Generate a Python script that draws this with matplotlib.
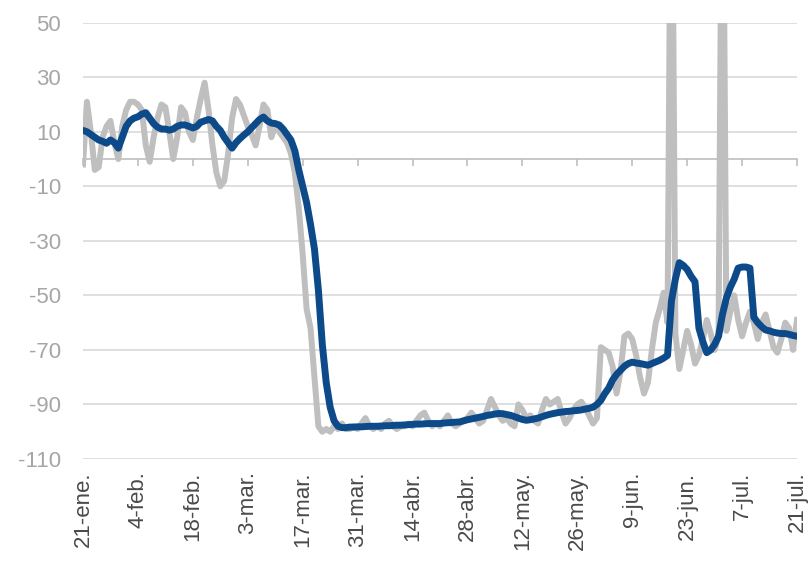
import matplotlib
matplotlib.use("Agg")
import matplotlib.pyplot as plt
import pandas as pd

plt.rcParams['font.family'] = ['Liberation Sans', 'DejaVu Sans']
plt.rcParams['axes.unicode_minus'] = False

start_date = "2020-01-21"

daily = [
    -2, 21, 10, -4, -3, 8, 12, 14, 6, 0,
    12, 18, 21, 21, 20, 18, 5, -1, 8, 15,
    20, 19, 10, 0, 8, 19, 17, 10, 7, 15,
    22, 28, 18, 5, -5, -10, -8, 2, 15, 22,
    20, 16, 12, 9, 5, 12, 20, 18, 8, 12,
    10, 8, 6, 2, -5, -18, -35, -55, -62, -80,
    -98, -100, -99, -100, -98, -99, -97, -99, -99, -98,
    -99, -97, -95, -98, -99, -98, -99, -97, -96, -98,
    -99, -98, -98, -97, -98, -96, -94, -93, -96, -98,
    -97, -98, -96, -94, -97, -98, -97, -96, -95, -93,
    -95, -97, -96, -92, -88, -91, -94, -96, -95, -97,
    -98, -90, -92, -95, -94, -96, -97, -92, -88, -90,
    -89, -88, -93, -97, -95, -92, -90, -89, -91, -94,
    -97, -95, -69, -70, -71, -76, -86, -78, -65, -64,
    -66, -72, -80, -86, -82, -70, -60, -55, -49, -60,
    150, -64, -77, -70, -63, -68, -75, -72, -66, -59,
    -64, -70, -65, 150, -63, -56, -50, -59, -65, -60,
    -56, -60, -66, -60, -57, -63, -69, -71, -66, -60,
    -62, -70, -59,
]

average = [
    10.5, 10, 9, 8, 7, 6.5, 5.8, 7, 6, 4,
    8, 12, 14, 15, 15.5, 16.5, 17, 15, 13, 11.7,
    11, 11, 10.6, 11, 12, 12.5, 12.5, 12, 11.4, 12,
    13.5, 14, 14.5, 14, 12, 10.5, 8, 6, 4, 6,
    7.5, 8.8, 10, 11.5, 13, 14.5, 15.4, 14, 13.2, 13,
    12.5, 11, 9, 7, 3, -4, -10, -16, -24, -33,
    -48, -68, -82, -91, -96, -98, -98.5, -98.5, -98.3, -98.3,
    -98.2, -98.2, -98.1, -98, -98, -98, -97.9, -97.8, -97.8, -97.7,
    -97.6, -97.6, -97.5, -97.4, -97.3, -97.2, -97.2, -97.1, -97, -97,
    -97, -97, -96.8, -96.7, -96.6, -96.5, -96.4, -96, -95.6, -95.3,
    -95, -94.7, -94.4, -94, -93.8, -93.5, -93.3, -93.4, -93.7, -94,
    -94.5, -95, -95.5, -95.8, -95.6, -95.3, -95, -94.5, -94, -93.6,
    -93.3, -93, -92.8, -92.6, -92.5, -92.3, -92.2, -92, -91.7, -91.4,
    -91, -90, -88.5, -86, -84, -81, -79, -77.5, -76, -75,
    -74.5, -74.8, -75, -75.3, -75.6, -75, -74.4, -73.8, -73, -72,
    -52, -44, -38, -39, -40.5, -43, -45, -62, -67, -71,
    -70, -68, -65, -57, -51, -47, -44, -40, -39.6, -39.6,
    -40, -58, -60, -61.5, -62.7, -63, -63.5, -63.8, -64, -64,
    -64.3, -64.7, -65,
]

y_ticks = [50, 30, 10, -10, -30, -50, -70, -90, -110]
y_tick_labels = ["50", "30", "10", "-10", "-30", "-50", "-70", "-90", "-110"]
x_tick_labels = ["21-ene.", "4-feb.", "18-feb.", "3-mar.", "17-mar.", "31-mar.",
                 "14-abr.", "28-abr.", "12-may.", "26-may.", "9-jun.", "23-jun.",
                 "7-jul.", "21-jul."]

dates = pd.date_range(start_date, periods=len(daily), freq="D")
tick_dates = pd.date_range(start_date, periods=len(x_tick_labels), freq="14D")

fig = plt.figure(figsize=(8.11, 5.69), dpi=100)
ax = fig.add_axes([83 / 811, 1 - 459 / 569, (797 - 83) / 811, (459 - 22.7) / 569])

grid_color = "#d9d9d9"
for v in y_ticks:
    ax.axhline(v, color=grid_color, lw=1.2, zorder=0)

ax.plot(dates, daily, color="#bfbfbf", lw=4.3, solid_joinstyle="round", zorder=2)
ax.plot(dates, average, color="#0d4a8a", lw=5.0, solid_joinstyle="round",
        solid_capstyle="round", zorder=3)

ax.set_ylim(-110, 50)
ax.set_xlim(dates[0], dates[-1])

for s in ["top", "right", "left"]:
    ax.spines[s].set_visible(False)
ax.spines["bottom"].set_position(("data", 0))
ax.spines["bottom"].set_color("#bfbfbf")
ax.spines["bottom"].set_linewidth(1.2)

ax.set_yticks(y_ticks)
ax.set_yticklabels(y_tick_labels)
ax.tick_params(axis="y", length=0, pad=16, labelsize=16, labelcolor="#a6a6a6")

ax.set_xticks(tick_dates)
ax.tick_params(axis="x", direction="out", length=5, width=1.2, color="#bfbfbf",
               labelbottom=False)

sec = ax.secondary_xaxis(0.0)
sec.set_xticks(tick_dates)
sec.set_xticklabels(x_tick_labels, rotation=90)
sec.tick_params(axis="x", length=0, pad=9, labelsize=16, labelcolor="#4a4a4a")
for s in sec.spines.values():
    s.set_visible(False)

fig.savefig("out.png", dpi=100)
